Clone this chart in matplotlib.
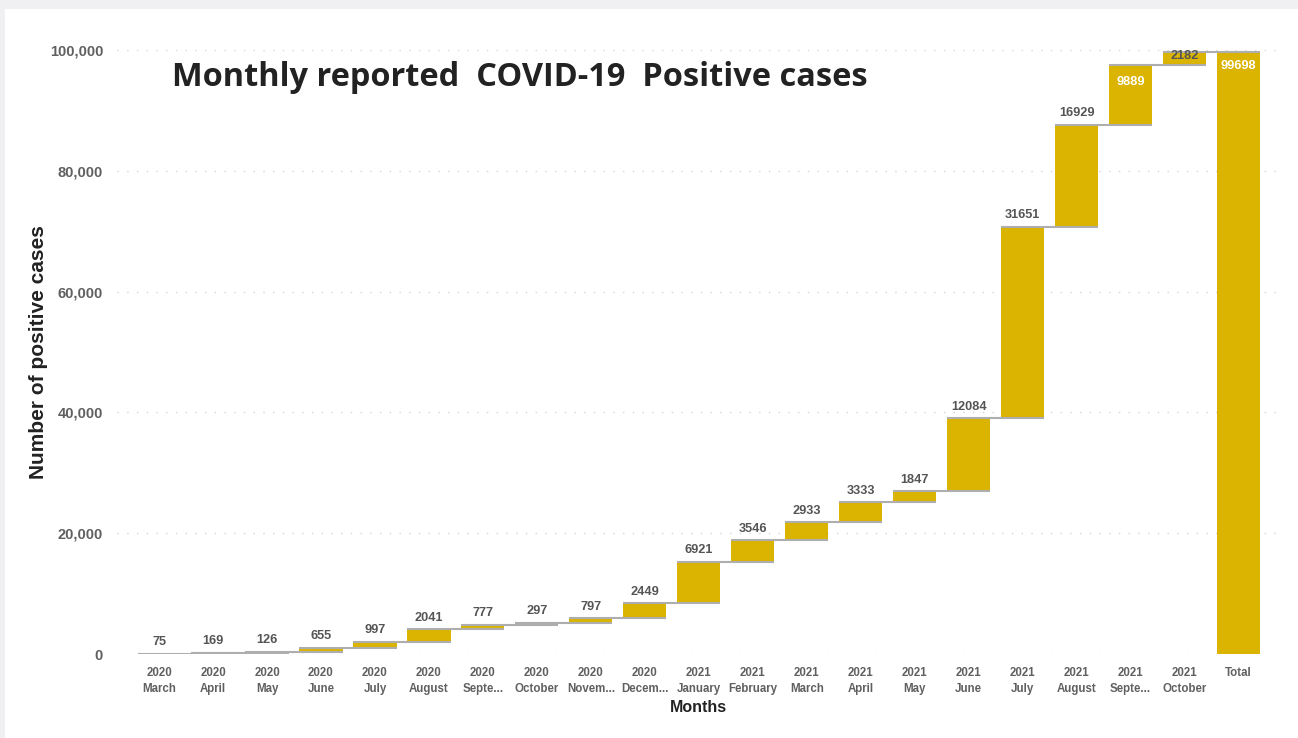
import numpy as np
import matplotlib.pyplot as plt
from matplotlib.patches import Rectangle
from matplotlib.ticker import FuncFormatter

years = ['2020'] * 10 + ['2021'] * 10
months = ['March', 'April', 'May', 'June', 'July', 'August', 'Septe...',
          'October', 'Novem...', 'Decem...', 'January', 'February', 'March',
          'April', 'May', 'June', 'July', 'August', 'Septe...', 'October']
cases = [75, 169, 126, 655, 997, 2041, 777, 297, 797, 2449,
         6921, 3546, 2933, 3333, 1847, 12084, 31651, 16929, 9889, 2182]
total_label = 'Total'

gold = '#DAB400'
grey_line = '#AEAEAE'
txt_grey = '#606060'

ends = np.cumsum(cases)
starts = ends - np.array(cases)
total = ends[-1]
n = len(cases)
x = np.arange(n + 1)
w = 0.8

fig = plt.figure(figsize=(12.98, 7.38), dpi=100, facecolor='#F0F0F2')
fig.patches.append(Rectangle((5 / 1298, 0), 1, 1 - 9 / 738, transform=fig.transFigure,
                             facecolor='white', edgecolor='none', zorder=-10))
ax = fig.add_axes([117 / 1298, 84 / 738, 1163 / 1298, 604 / 738])
ax.set_facecolor('none')
ax.set_zorder(1)

ax.bar(x[:n], cases, bottom=starts, width=w, color=gold, zorder=2)
ax.bar(x[n], total, width=w, color=gold, zorder=2)

# connectors
levels = list(ends)
for i, lv in enumerate(levels):
    ax.plot([x[i] - w / 2, x[i + 1] + w / 2], [lv, lv], color=grey_line, lw=1.5,
            zorder=3, solid_capstyle='butt')

# value labels
for i, v in enumerate(cases):
    if ends[i] > 95000:
        col = 'white' if v > 5000 else '#555555'
        ax.annotate(str(v), (x[i], ends[i]), xytext=(0, 1 if v < 5000 else -8),
                    textcoords='offset points', ha='center', va='top',
                    fontsize=9.2, fontweight='bold', color=col, zorder=4,
                    family='Liberation Sans', annotation_clip=False)
    else:
        ax.annotate(str(v), (x[i], ends[i]), xytext=(0, 4), textcoords='offset points',
                    ha='center', va='bottom', fontsize=9.2, fontweight='bold',
                    color='#555555', zorder=4, family='Liberation Sans')
ax.annotate(str(total), (x[n], total), xytext=(0, -6), textcoords='offset points',
            ha='center', va='top', fontsize=9.2, fontweight='bold', color='white',
            zorder=4, family='Liberation Sans')

ax.set_xlim(-0.78, 20.77)
ax.set_ylim(0, 100000)
ax.set_yticks(np.arange(0, 100001, 20000))
ax.yaxis.set_major_formatter(FuncFormatter(lambda v, p: f'{int(v):,}'))
ax.set_xticks(x)
ax.set_xticklabels([f'{y}\n{m}' for y, m in zip(years, months)] + [total_label])
for lab in ax.get_xticklabels():
    lab.set_fontsize(8.3)
    lab.set_fontweight('bold')
    lab.set_color(txt_grey)
    lab.set_family('Liberation Sans')
    lab.set_verticalalignment('top')
    lab.set_linespacing(1.45)
for lab in ax.get_yticklabels():
    lab.set_fontsize(10.5)
    lab.set_fontweight('bold')
    lab.set_color(txt_grey)
    lab.set_family('Liberation Sans')
ax.tick_params(axis='both', length=0)
ax.tick_params(axis='x', pad=9)
ax.tick_params(axis='y', pad=10)
for s in ax.spines.values():
    s.set_visible(False)
ax.grid(axis='y', color='#D5D5D5', linestyle=(0, (1, 6)), lw=1, zorder=0)
ax.set_axisbelow(True)

ax.set_xlabel('Months', fontsize=11.5, fontweight='bold', color='#222222',
              family='Liberation Sans', labelpad=4)
ax.set_ylabel('Number of positive cases', fontsize=15, fontweight='bold',
              color='#222222', family='Liberation Sans', labelpad=1)

fig.text(172 / 1298, 1 - 77 / 738, 'Monthly reported  COVID-19  Positive cases',
         fontsize=23.4, fontweight='bold', color='#222222', family='Open Sans',
         ha='left', va='center')

fig.savefig('out.png', dpi=100, facecolor=fig.get_facecolor())
